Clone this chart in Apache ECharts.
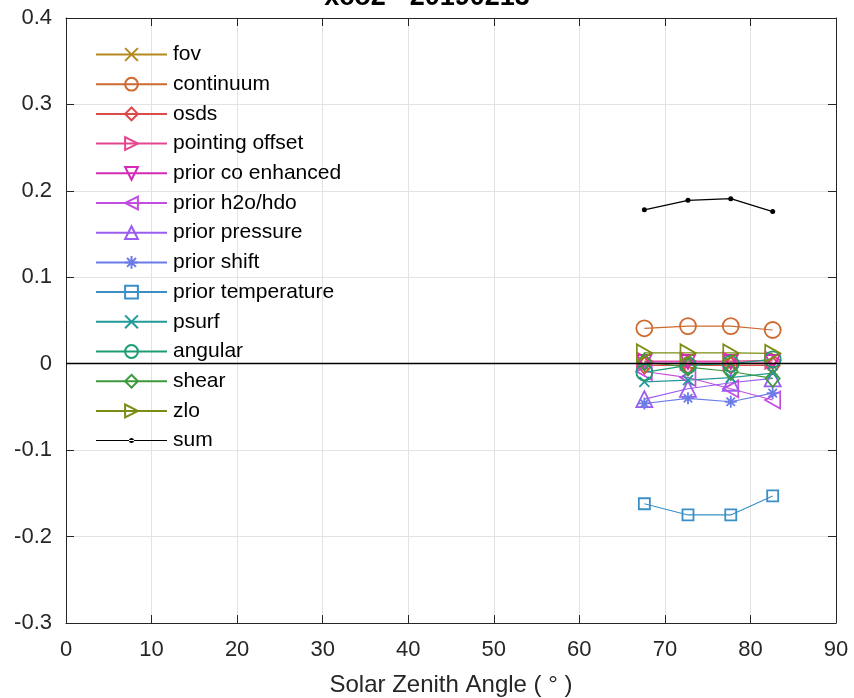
<!DOCTYPE html>
<html>
<head>
<meta charset="utf-8">
<script src="https://cdn.jsdelivr.net/npm/echarts@6/dist/echarts.min.js"></script>
<style>html,body{margin:0;padding:0;background:#fff}#c{width:854px;height:698px}</style>
</head>
<body>
<div id="c"></div>
<script>
// ---- data ----
const titleText = 'xco2 - 20190213';
const xName = 'Solar Zenith Angle ( \u00b0 )';
const sza = [67.6, 72.7, 77.7, 82.6];
const seriesNames = ['fov','continuum','osds','pointing offset','prior co enhanced','prior h2o/hdo','prior pressure','prior shift','prior temperature','psurf','angular','shear','zlo','sum'];
const fov = [-0.002, -0.002, -0.002, -0.002];
const continuum = [0.041, 0.0435, 0.0435, 0.039];
const osds = [-0.002, -0.002, -0.002, -0.002];
const pointingOffset = [0.003, 0.003, 0.003, 0.004];
const priorCoEnhanced = [0.002, 0.002, 0.002, 0.002];
const priorH2oHdo = [-0.009, -0.016, -0.029, -0.042];
const priorPressure = [-0.041, -0.029, -0.022, -0.017];
const priorShift = [-0.046, -0.040, -0.044, -0.034];
const priorTemperature = [-0.162, -0.175, -0.175, -0.153];
const psurf = [-0.021, -0.019, -0.016, -0.011];
const angular = [-0.010, -0.002, 0.000, 0.005];
const shear = [0.002, -0.004, -0.009, -0.017];
const zlo = [0.0125, 0.0125, 0.0125, 0.012];
const sum = [0.178, 0.189, 0.191, 0.176];
const yTicks = [-0.3, -0.2, -0.1, 0, 0.1, 0.2, 0.3, 0.4];
const xTicks = [0, 10, 20, 30, 40, 50, 60, 70, 80, 90];

const allData = [fov, continuum, osds, pointingOffset, priorCoEnhanced, priorH2oHdo, priorPressure, priorShift, priorTemperature, psurf, angular, shear, zlo, sum];
const colors = ['#b5891e','#cd6a2f','#dc4a4a','#e2468f','#d42ab8','#c24ee0','#9b5cf2','#6b7be8','#3b8fc7','#239a9a','#1c9c74','#3c9a3c','#7c8c14','#000000'];
const symbols = [
  'path://M0,0L10,10M10,0L0,10',
  'circle',
  'path://M5,0L10,5L5,10L0,5Z',
  'path://M0,0L10,5L0,10Z',
  'path://M0,0L10,0L5,10Z',
  'path://M10,0L0,5L10,10Z',
  'path://M5,0L10,9L0,9Z',
  'path://M5,0L5,10M0,5L10,5M1.5,1.5L8.5,8.5M8.5,1.5L1.5,8.5',
  'rect',
  'path://M0,0L10,10M10,0L0,10',
  'circle',
  'path://M5,0L10,5L5,10L0,5Z',
  'path://M0,0L10,5L0,10Z',
  'circle'
];
const sizes = [[10,10],16,[14,17],[15,17],[14,14],[15,17],[16,16],[12,12],11,[10,10],16,[14,17],[15,17],5];

const FONT = 'Liberation Sans, Arial, Helvetica, sans-serif';
const chart = echarts.init(document.getElementById('c'));

const series = seriesNames.map((name, i) => {
  const isSum = name === 'sum';
  return {
    name: name,
    type: 'line',
    data: sza.map((x, k) => [x, allData[i][k]]),
    symbol: symbols[i],
    symbolSize: sizes[i],
    showAllSymbol: true,
    lineStyle: { color: colors[i], width: 1.2 },
    itemStyle: isSum ? { color: '#000', borderWidth: 0 } : { color: 'rgba(255,255,255,0)', borderColor: colors[i], borderWidth: 1.8 },
    emphasis: { disabled: true },
    z: isSum ? 5 : 3,
    animation: false
  };
});
series.push({
  name: 'zero', type: 'line', data: [], silent: true,
  markLine: { silent: true, symbol: ['none','none'], label: { show: false },
    lineStyle: { color: '#000', width: 1.3, type: 'solid' }, data: [{ yAxis: 0 }], animation: false },
  animation: false
});

const fmt = v => parseFloat(Number(v).toFixed(1)).toString();
const legendData = seriesNames.map(n => n === 'sum'
  ? { name: n, icon: 'path://M0,0L0.01,0L0,0.01ZM0,16L0.01,16L0,15.99ZM0,7.5L71,7.5L71,8.5L0,8.5ZM33,8A2.5,2.5,0,1,0,38,8A2.5,2.5,0,1,0,33,8Z' }
  : n);

chart.setOption({
  backgroundColor: '#fff',
  animation: false,
  title: { text: titleText, left: 'center', top: -21, textStyle: { fontFamily: FONT, fontSize: 27, fontWeight: 'bold', color: '#000' } },
  legend: {
    data: legendData, orient: 'vertical', left: 90, top: 39,
    itemWidth: 71, itemHeight: 16, itemGap: 8.7,
    textStyle: { fontFamily: FONT, fontSize: 21, color: '#000', lineHeight: 18, padding: [0,0,0,1] },
    selectedMode: false
  },
  grid: { left: 66, right: 18, top: 18, bottom: 75, containLabel: false, outerBoundsMode: 'none' },
  xAxis: [{
    type: 'value', min: xTicks[0], max: xTicks[xTicks.length-1], interval: 10,
    name: xName, nameLocation: 'middle', nameGap: 50,
    nameTextStyle: { fontFamily: FONT, fontSize: 24, color: '#262626' },
    axisLine: { show: true, onZero: false, lineStyle: { color: '#262626', width: 1 } },
    axisTick: { show: true, inside: true, length: 8, lineStyle: { color: '#262626' } },
    axisLabel: { fontFamily: FONT, fontSize: 22, color: '#262626', margin: 16 },
    splitLine: { show: true, lineStyle: { color: '#e3e3e3', width: 1 } }
  }, {
    type: 'value', position: 'top', min: xTicks[0], max: xTicks[xTicks.length-1], interval: 10,
    axisLine: { show: true, onZero: false, lineStyle: { color: '#262626', width: 1 } },
    axisTick: { show: true, inside: true, length: 8, lineStyle: { color: '#262626' } },
    axisLabel: { show: false }, splitLine: { show: false }
  }],
  yAxis: [{
    type: 'value', min: yTicks[0], max: yTicks[yTicks.length-1], interval: 0.1,
    axisLine: { show: true, onZero: false, lineStyle: { color: '#262626', width: 1 } },
    axisTick: { show: true, inside: true, length: 8, lineStyle: { color: '#262626' } },
    axisLabel: { fontFamily: FONT, fontSize: 22, color: '#262626', margin: 14, formatter: fmt },
    splitLine: { show: true, lineStyle: { color: '#e3e3e3', width: 1 } }
  }, {
    type: 'value', position: 'right', min: yTicks[0], max: yTicks[yTicks.length-1], interval: 0.1,
    axisLine: { show: true, onZero: false, lineStyle: { color: '#262626', width: 1 } },
    axisTick: { show: true, inside: true, length: 8, lineStyle: { color: '#262626' } },
    axisLabel: { show: false }, splitLine: { show: false }
  }],
  series: series
});
</script>
</body>
</html>
